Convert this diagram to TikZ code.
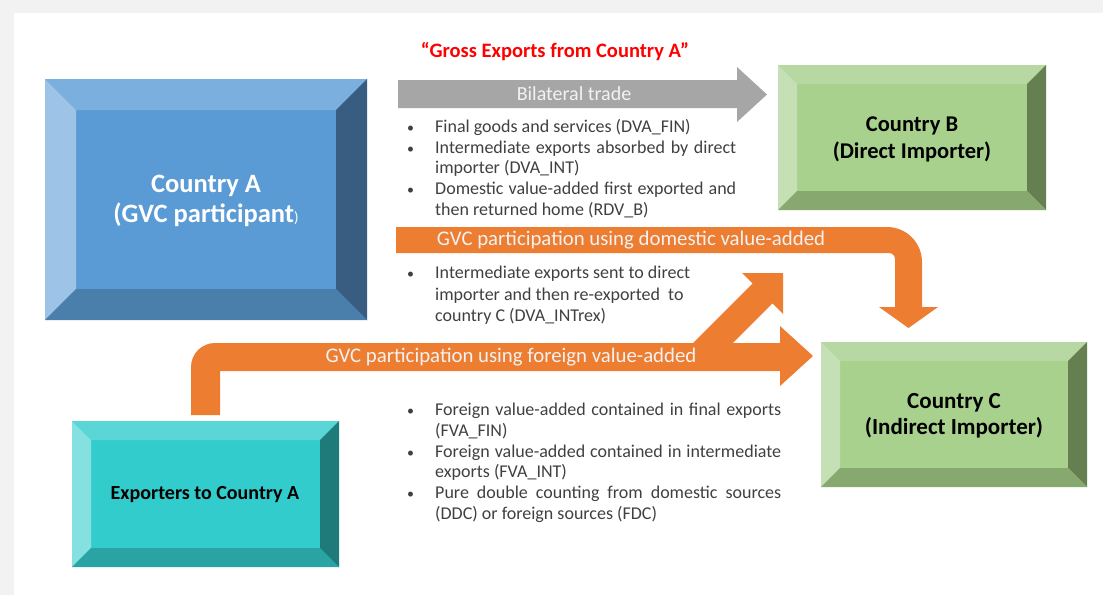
\documentclass[tikz,border=0pt]{standalone}
\usepackage{fontspec}
\setmainfont{Carlito}
\definecolor{bg}{HTML}{F2F2F2}
\definecolor{blueT}{HTML}{7BAFDE}
\definecolor{blueL}{HTML}{9DC3E6}
\definecolor{blueC}{HTML}{5B9BD5}
\definecolor{blueR}{HTML}{385D80}
\definecolor{blueB}{HTML}{4A7EAB}
\definecolor{greenT}{HTML}{B8D8A3}
\definecolor{greenL}{HTML}{C5E0B4}
\definecolor{greenC}{HTML}{A9D18E}
\definecolor{greenR}{HTML}{657F50}
\definecolor{greenB}{HTML}{87A86E}
\definecolor{tealT}{HTML}{5BD6D6}
\definecolor{tealL}{HTML}{85E0E0}
\definecolor{tealC}{HTML}{33CCCC}
\definecolor{tealR}{HTML}{1F7A7A}
\definecolor{tealB}{HTML}{29A3A3}
\definecolor{arrOrange}{HTML}{ED7D31}
\definecolor{arrGray}{HTML}{A6A6A6}
\definecolor{txtGray}{HTML}{404040}
\newcommand{\bevelbox}[6]{%
  \fill[#6C] (#1,#2) rectangle (#3,#4);
  \fill[#6T] (#1,#2) -- (#3,#2) -- ({#3-#5},{#2+#5}) -- ({#1+#5},{#2+#5}) -- cycle;
  \fill[#6L] (#1,#2) -- ({#1+#5},{#2+#5}) -- ({#1+#5},{#4-#5}) -- (#1,#4) -- cycle;
  \fill[#6R] (#3,#2) -- ({#3-#5},{#2+#5}) -- ({#3-#5},{#4-#5}) -- (#3,#4) -- cycle;
  \fill[#6B] (#1,#4) -- ({#1+#5},{#4-#5}) -- ({#3-#5},{#4-#5}) -- (#3,#4) -- cycle;
}
\newcommand{\bitem}[1]{\makebox[28pt][l]{\fontsize{14}{14}\selectfont\textbullet}#1}
\newcommand{\bcont}[1]{\hspace*{28pt}#1}
\tikzset{
  boxlabel/.style={align=center, inner sep=0pt},
  bandlabel/.style={text=bg, font=\fontsize{20.8}{24}\selectfont, inner sep=0pt},
  bline/.style={anchor=base west, inner sep=0pt, text=txtGray, font=\fontsize{18}{20}\selectfont},
  orangearrow/.style={fill=arrOrange},
  grayarrow/.style={fill=arrGray}
}
\begin{document}
\begin{tikzpicture}[x=1pt,y=-1pt]
\useasboundingbox (0,0) rectangle (1103,595);
\fill[bg] (0,0) rectangle (1103,595);
\fill[white] (14,13) rectangle (1103,595);

% boxes
\bevelbox{45}{79}{367}{320}{31}{blue}
\bevelbox{778}{65}{1046}{210}{19}{green}
\bevelbox{821}{342}{1087}{487}{19}{green}
\bevelbox{72}{421}{339}{567}{19}{teal}

\node[boxlabel, text=white, font=\fontsize{26.5}{30}\selectfont\bfseries] (A) at (206,201)
  {Country A\\(GVC participant{\fontsize{15}{15}\selectfont\mdseries )}};
\node[boxlabel, text=black, font=\fontsize{22.5}{27}\selectfont\bfseries] (B) at (912,139)
  {Country B\\(Direct Importer)};
\node[boxlabel, text=black, font=\fontsize{23}{26}\selectfont\bfseries] (C) at (954,416)
  {Country C\\(Indirect Importer)};
\node[boxlabel, text=black, font=\fontsize{20}{22}\selectfont\bfseries] (E) at (205,495)
  {Exporters to Country A};

% title
\node[text=red, font=\fontsize{20.5}{24}\selectfont\bfseries, inner sep=0pt] (title) at (555,52)
  {“Gross Exports from Country A”};

% gray arrow
\fill[grayarrow] (398,80) -- (737,80) -- (737,67) -- (767,94.5) -- (737,122) -- (737,108) -- (398,108) -- cycle;
\node[bandlabel, font=\fontsize{20}{24}\selectfont] (bil) at (574,94) {Bilateral trade};

% domestic arrow
\fill[orangearrow] (396,227) -- (887,227) arc[start angle=-90,end angle=0,radius=35]
  -- (922,307) -- (938,307) -- (908.5,328) -- (879,307) -- (895,307) -- (895,259)
  arc[start angle=0,end angle=-90,radius=6] -- (396,253) -- cycle;
\node[bandlabel] (dom) at (631,240) {GVC participation using domestic value-added};

% foreign arrow
\fill[orangearrow] (191,415) -- (191,367) arc[start angle=180,end angle=270,radius=24]
  -- (693.2,343) -- (752.6,283.6) -- (742,273) -- (783,273) -- (783,314) -- (772.4,303.4)
  -- (732.8,343) -- (780,343) -- (780,326) -- (813,356) -- (780,386) -- (780,371)
  -- (220,371) -- (220,415) -- cycle;
\node[bandlabel] (for) at (511,357) {GVC participation using foreign value-added};

% list 1
\node[bline] (l1a) at (407,132.5) {\bitem{Final goods and services (DVA\_FIN)}};
\node[bline] (l1b) at (407,153.2) {\bitem{\makebox[301pt][s]{Intermediate exports absorbed by direct}}};
\node[bline] (l1c) at (407,173.9) {\bcont{importer (DVA\_INT)}};
\node[bline] (l1d) at (407,194.6) {\bitem{\makebox[301pt][s]{Domestic value-added first exported and}}};
\node[bline] (l1e) at (407,215.3) {\bcont{then returned home (RDV\_B)}};

% list 2
\node[bline] (l2a) at (407,278.5) {\bitem{Intermediate exports sent to direct}};
\node[bline] (l2b) at (407,300) {\bcont{importer and then re-exported\ \ to}};
\node[bline] (l2c) at (407,321.5) {\bcont{country C (DVA\_INTrex)}};

% list 3
\node[bline] (l3a) at (407,415.5) {\bitem{\makebox[346pt][s]{Foreign value-added contained in final exports}}};
\node[bline] (l3b) at (407,436.5) {\bcont{(FVA\_FIN)}};
\node[bline] (l3c) at (407,457) {\bitem{\makebox[346pt][s]{Foreign value-added contained in intermediate}}};
\node[bline] (l3d) at (407,477.5) {\bcont{exports (FVA\_INT)}};
\node[bline] (l3e) at (407,498.5) {\bitem{\makebox[346pt][s]{Pure double counting from domestic sources}}};
\node[bline] (l3f) at (407,519.5) {\bcont{(DDC) or foreign sources (FDC)}};
\end{tikzpicture}
\end{document}
